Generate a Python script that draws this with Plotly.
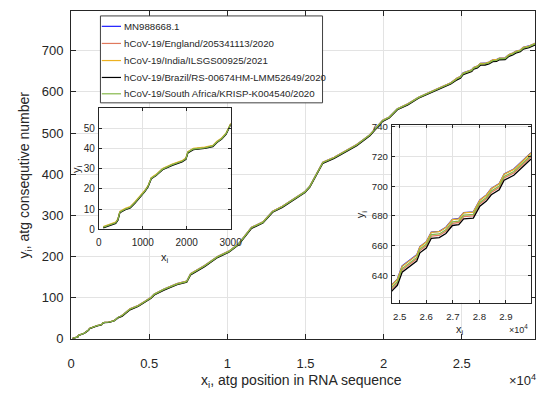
import plotly.graph_objects as go

# ---------------- data ----------------
SERIES_NAMES = [
    "MN988668.1",
    "hCoV-19/England/205341113/2020",
    "hCoV-19/India/ILSGS00925/2021",
    "hCoV-19/Brazil/RS-00674HM-LMM52649/2020",
    "hCoV-19/South Africa/KRISP-K004540/2020",
]
SERIES_COLORS = ["#1a1aff", "#e0795c", "#edb120", "#000000", "#86b84a"]

X_POS = [100, 383, 434, 478, 604, 715, 825, 936, 1046, 1120,
         1194, 1305, 1451, 1673, 1894, 1983, 2027, 2153, 2411, 2596,
         2690, 2800, 2900, 3000,
         3260, 3775, 4290, 4810, 5120, 5330, 5950, 6780, 7400, 7650,
         8545, 9370, 10100, 10720, 11130, 11550, 12280, 12900, 13520, 14140,
         14970, 15280, 16110, 16835, 17660, 18280, 19120, 19940, 20360, 20880,
         21550, 22230, 23470, 24300,
         24700, 24910, 25090, 25400, 25640, 25760, 26000, 26190, 26490, 26740,
         26985, 27225, 27410, 27775, 28020, 28265, 28450, 28750, 28935, 29300,
         29480, 29950]

Y_MN = [1, 3.2, 4.8, 8.5, 10, 10.9, 13.3, 16, 18.9, 21.3,
        25.3, 26.9, 29.8, 32, 33.7, 35, 38.2, 39.8, 40.4, 41.3,
        43.3, 45, 47.5, 52,
        57, 73, 81, 93, 101, 109, 121, 134, 140, 158,
        178, 200, 213, 231, 251, 271, 284, 310, 322, 338,
        358, 371, 429, 441, 458, 472, 496, 531, 539, 559,
        571, 587, 608, 622,
        633.5, 637.4, 646.2, 650.5, 653.7, 659.3, 662.5, 669.1, 669.5, 672.3,
        677.7, 678.2, 682.2, 682.7, 690.7, 694.1, 698.4, 701.7, 708.2, 711.5,
        714.7, 722.5]

Y_ENG = [1, 3.2, 4.8, 8.5, 10, 10.9, 13.3, 16, 18.9, 21.3,
         25.3, 26.9, 29.8, 32, 33.7, 35, 38.2, 39.8, 40.4, 41.3,
         43.3, 45, 47.5, 52,
         55.5, 71.5, 79.5, 91.5, 99.5, 107.5, 119.5, 132.5, 138.5, 156.5,
         176.5, 198.5, 211.5, 229.5, 249.5, 269.5, 282.5, 308.5, 320.5, 336.5,
         356.5, 369.5, 427.5, 439.5, 456.5, 470.5, 494.5, 529.5, 537.5, 557.5,
         569.5, 585.5, 606.5, 620.5,
         630.8, 634.7, 643.5, 647.8, 651, 656.6, 659.8, 666.4, 666.8, 669.6,
         675, 675.5, 679.5, 680, 688, 691.4, 695.7, 699, 705.5, 708.8,
         712, 719.8]

Y_IND = [1.3, 3.5, 5.1, 8.8, 10.3, 11.2, 13.6, 16.3, 19.2, 21.6,
         25.6, 27.2, 30.1, 32.3, 34, 35.3, 38.5, 40.1, 40.7, 41.6,
         43.6, 45.3, 47.8, 52.3,
         57, 73, 81, 93, 101, 109, 121, 134, 140, 158,
         178, 200, 213, 231, 251, 271, 284, 310, 322, 338,
         358, 371, 429, 441, 458, 472, 496, 531, 539, 559,
         571, 587, 608, 622,
         633.3, 637.2, 646, 650.3, 653.5, 659.1, 662.3, 668.9, 669.3, 672.1,
         677.5, 678, 682, 682.5, 690.5, 693.9, 698.2, 701.5, 708, 711.3,
         714.5, 722.3]

Y_BRA = [0.7, 2.9, 4.5, 8.2, 9.7, 10.6, 13, 15.7, 18.6, 21,
         25, 26.6, 29.5, 31.7, 33.4, 34.7, 37.9, 39.5, 40.1, 41,
         43, 44.7, 47.2, 51.7,
         54.5, 70.5, 78.5, 90.5, 98.5, 106.5, 118.5, 131.5, 137.5, 155.5,
         175.5, 197.5, 210.5, 228.5, 248.5, 268.5, 281.5, 307.5, 319.5, 335.5,
         355.5, 368.5, 426.5, 438.5, 455.5, 469.5, 493.5, 528.5, 536.5, 556.5,
         568.5, 584.5, 605.5, 619.5,
         629.3, 633.2, 642, 646.3, 649.5, 655.1, 658.3, 664.9, 665.3, 668.1,
         673.5, 674, 678, 678.5, 686.5, 689.9, 694.2, 697.5, 704, 707.3,
         710.5, 718.3]

Y_SA = [1, 3.2, 4.8, 8.5, 10, 10.9, 13.3, 16, 18.9, 21.3,
        25.3, 26.9, 29.8, 32, 33.7, 35, 38.2, 39.8, 40.4, 41.3,
        43.3, 45, 47.5, 52,
        56, 72, 80, 92, 100, 108, 120, 133, 139, 157,
        177, 199, 212, 230, 250, 270, 283, 309, 321, 337,
        357, 370, 428, 440, 457, 471, 495, 530, 538, 558,
        570, 586, 607, 621,
        631.8, 635.7, 644.5, 648.8, 652, 657.6, 660.8, 667.4, 667.8, 670.6,
        676, 676.5, 680.5, 681, 689, 692.4, 696.7, 700, 706.5, 709.8,
        713, 720.8]

SERIES_Y = [Y_MN, Y_ENG, Y_IND, Y_BRA, Y_SA]

MAIN_XTICKS = [0, 5000, 10000, 15000, 20000, 25000]
MAIN_XTICKTEXT = ["0", "0.5", "1", "1.5", "2", "2.5"]
MAIN_YTICKS = [0, 100, 200, 300, 400, 500, 600, 700]
IN1_XTICKS = [0, 1000, 2000, 3000]
IN1_YTICKS = [0, 10, 20, 30, 40, 50]
IN2_XTICKS = [25000, 26000, 27000, 28000, 29000]
IN2_XTICKTEXT = ["2.5", "2.6", "2.7", "2.8", "2.9"]
IN2_YTICKS = [640, 660, 680, 700, 720, 740]

# ---------------- layout helpers ----------------
W, H = 555, 394
FONT = "Liberation Sans, Arial, Helvetica, sans-serif"
TXT = "#262626"


def px(x):
    return x / W


def py(y):
    return 1 - y / H


fig = go.Figure()
for sub in ["", "2", "3"]:
    for name, col, ys in zip(SERIES_NAMES, SERIES_COLORS, SERIES_Y):
        fig.add_trace(go.Scatter(
            x=X_POS, y=ys, mode="lines", name=name,
            line=dict(color=col, width=1.3),
            xaxis="x" + sub, yaxis="y" + sub,
            showlegend=False, hoverinfo="skip"))


def axis(size, ticklen, **kw):
    d = dict(showline=True, linecolor=TXT, linewidth=1, mirror="ticks",
             ticks="inside", ticklen=ticklen, tickcolor=TXT, tickwidth=1,
             showgrid=True, gridcolor="#e3e3e3", gridwidth=1, zeroline=False,
             ticklabeloverflow="allow",
             tickfont=dict(family=FONT, size=size, color=TXT))
    d.update(kw)
    return d


fig.update_layout(
    width=W, height=H, margin=dict(l=0, r=0, t=0, b=0),
    paper_bgcolor="white", plot_bgcolor="white", showlegend=False,
    xaxis=axis(13, 5, domain=[px(69), px(547)], range=[0, 29700], anchor="y",
               tickvals=MAIN_XTICKS, ticktext=MAIN_XTICKTEXT, ticklabelstandoff=13),
    yaxis=axis(13, 5, domain=[py(345.5), py(8)], range=[0, 797], anchor="x",
               tickvals=MAIN_YTICKS, ticklabelstandoff=4),
    xaxis2=axis(10, 3, domain=[px(97.7), px(233.3)], range=[0, 3000], anchor="y2",
                tickvals=IN1_XTICKS, ticklabelstandoff=4),
    yaxis2=axis(10, 3, domain=[py(232.7), py(108.3)], range=[0, 60], anchor="x2",
                tickvals=IN1_YTICKS, ticklabelstandoff=1),
    xaxis3=axis(9.6, 3, domain=[px(399.3), px(542.7)], range=[24700, 29950], anchor="y3",
                tickvals=IN2_XTICKS, ticktext=IN2_XTICKTEXT, ticklabelstandoff=5),
    yaxis3=axis(9.6, 3, domain=[py(308.3), py(125)], range=[621.5, 741.5], anchor="x3",
                tickvals=IN2_YTICKS, ticklabelstandoff=1),
)


def ann(text, x, y, size, xanchor="center", angle=0):
    fig.add_annotation(text=text, x=px(x), y=py(y), xref="paper", yref="paper",
                       xanchor=xanchor, yanchor="middle", showarrow=False,
                       textangle=angle, font=dict(family=FONT, size=size, color=TXT))


ann("x<sub>i</sub>, atg position in RNA sequence", 306, 389, 14)
ann("y<sub>i</sub>, atg consequtive number", 22, 177, 14, angle=-90)
ann("×10<sup>4</sup>", 550, 388, 13, xanchor="right")
ann("x<sub>i</sub>", 166, 262, 11)
ann("y<sub>i</sub>", 75, 171, 11, angle=-90)
ann("x<sub>i</sub>", 470, 336, 11)
ann("y<sub>i</sub>", 368, 217, 11, angle=-90)
ann("×10<sup>4</sup>", 542, 335, 9, xanchor="right")

# legend box drawn by hand
fig.add_shape(type="rect", xref="paper", yref="paper",
              x0=px(99.3), x1=px(328), y0=py(102.7), y1=py(13.3),
              fillcolor="white", line=dict(color="#404040", width=1), layer="above")
ROW_Y = [24, 41.6, 59.2, 76.6, 93.4]
for name, col, ry in zip(SERIES_NAMES, SERIES_COLORS, ROW_Y):
    fig.add_shape(type="line", xref="paper", yref="paper",
                  x0=px(100.7), x1=px(120.5), y0=py(ry), y1=py(ry),
                  line=dict(color=col, width=1.2), layer="above")
    fig.add_annotation(text=name, x=px(121), y=py(ry), xref="paper", yref="paper",
                       xanchor="left", yanchor="middle", showarrow=False,
                       font=dict(family=FONT, size=9.7, color=TXT))

fig.write_html("out.html")
